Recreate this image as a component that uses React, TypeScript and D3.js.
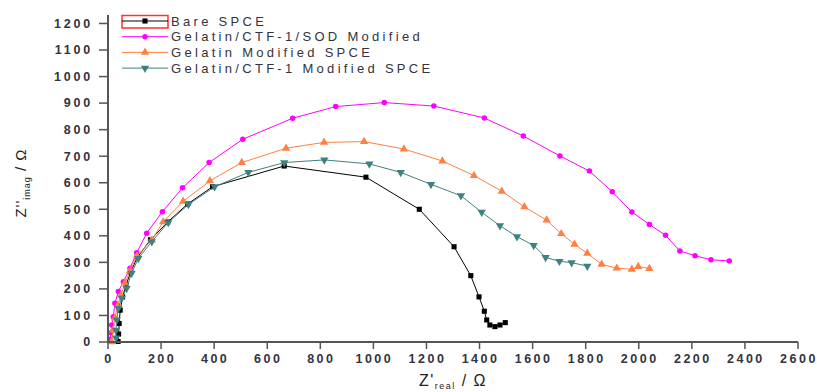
import React from 'react';
import * as d3 from 'd3';

// Nyquist data, Z'real / Ω vs Z''imag / Ω
const bareX = [38, 40, 42, 46, 55, 68, 85, 110, 160, 225, 300, 394, 664, 972, 1173, 1304, 1367, 1398, 1418, 1427, 1439, 1458, 1477, 1497];
const bareY = [2, 30, 70, 120, 170, 215, 262, 318, 385, 452, 520, 585, 663, 621, 500, 359, 250, 170, 116, 83, 64, 58, 64, 73];

const sodX = [8, 11, 14, 20, 26, 39, 58, 83, 108, 146, 205, 281, 381, 508, 696, 858, 1041, 1228, 1418, 1565, 1703, 1814, 1900, 1974, 2040, 2101, 2155, 2212, 2272, 2341];
const sodY = [10, 35, 64, 95, 146, 190, 227, 278, 336, 410, 491, 581, 676, 764, 843, 887, 902, 889, 844, 776, 701, 644, 566, 490, 443, 402, 343, 325, 310, 305];

const gelX = [14, 19, 26, 38, 49, 64, 83, 109, 165, 208, 283, 384, 504, 671, 814, 965, 1115, 1260, 1379, 1484, 1569, 1653, 1708, 1758, 1806, 1860, 1917, 1974, 1998, 2040];
const gelY = [1, 45, 90, 139, 177, 222, 268, 324, 384, 453, 530, 607, 676, 730, 752, 755, 727, 682, 627, 568, 509, 459, 408, 368, 334, 293, 278, 274, 284, 277];

const ctfX = [30, 30, 33, 39, 52, 70, 89, 114, 165, 227, 303, 402, 529, 664, 815, 985, 1103, 1217, 1330, 1408, 1477, 1541, 1604, 1649, 1701, 1747, 1806];
const ctfY = [15, 45, 83, 127, 165, 202, 259, 315, 378, 450, 518, 585, 639, 676, 686, 671, 639, 594, 551, 489, 438, 397, 364, 319, 304, 299, 286];

const seriesNames = ['Bare SPCE', 'Gelatin/CTF-1/SOD Modified', 'Gelatin Modified SPCE', 'Gelatin/CTF-1 Modified SPCE'];
const seriesColors = ['#000000', '#ff00ff', '#ff8040', '#408080'];
const xTicks = d3.range(0, 2601, 200);
const yTicks = d3.range(0, 1201, 100);

const W = 817;
const H = 392;

const App = () => {
  const x = d3.scaleLinear().domain([0, 2600]).range([108, 798]);
  const y = d3.scaleLinear().domain([0, 1232]).range([342, 15]);

  const series = [
    { xs: bareX, ys: bareY, shape: 'square' },
    { xs: sodX, ys: sodY, shape: 'circle' },
    { xs: gelX, ys: gelY, shape: 'up' },
    { xs: ctfX, ys: ctfY, shape: 'down' },
  ];

  const line = d3.line<[number, number]>().x((d) => x(d[0])).y((d) => y(d[1]));

  const symbolPath = (shape) => {
    if (shape === 'square') return d3.symbol(d3.symbolSquare, 26)();
    if (shape === 'circle') return d3.symbol(d3.symbolCircle, 24)();
    return d3.symbol(d3.symbolTriangle, 30)();
  };

  const axisColor = '#555555';
  const textColor = '#333340';
  const font = 'Arial, "Liberation Sans", sans-serif';

  return (
    <svg width={W} height={H} style={{ position: 'absolute', left: 0, top: 0, background: '#fff' }}>
      {/* series */}
      {series.map((s, i) => {
        const pts = s.xs.map((v, j) => [v, s.ys[j]] as [number, number]);
        return (
          <g key={i}>
            <path d={line(pts) || ''} fill="none" stroke={seriesColors[i]} strokeWidth={1} />
            {pts.map((p, j) => (
              <path
                key={j}
                d={symbolPath(s.shape) || ''}
                fill={seriesColors[i]}
                transform={`translate(${x(p[0])},${y(p[1])})${s.shape === 'down' ? ' rotate(180)' : ''}`}
              />
            ))}
          </g>
        );
      })}

      {/* axes */}
      <line x1={108} x2={108} y1={y(1232)} y2={343} stroke={axisColor} strokeWidth={2} />
      <line x1={107} x2={798} y1={342} y2={342} stroke={axisColor} strokeWidth={2} />
      {yTicks.map((t) => (
        <g key={'y' + t}>
          <line x1={99} x2={108} y1={y(t)} y2={y(t)} stroke={axisColor} strokeWidth={1.5} />
          <text x={93} y={y(t)} dy="0.35em" textAnchor="end" fontFamily={font} fontWeight="bold" fontSize={12.5} letterSpacing={2.8} fill={textColor}>
            {t}
          </text>
        </g>
      ))}
      {xTicks.map((t) => (
        <g key={'x' + t}>
          <line x1={x(t)} x2={x(t)} y1={342} y2={349} stroke={axisColor} strokeWidth={1.5} />
          <text x={x(t) + 1} y={363} textAnchor="middle" fontFamily={font} fontWeight="bold" fontSize={12.5} letterSpacing={2.5} fill={textColor}>
            {t}
          </text>
        </g>
      ))}

      {/* axis titles */}
      <text x={453} y={386} textAnchor="middle" fontFamily={font} fontSize={16} letterSpacing={1.5} fill="#222">
        Z'<tspan fontSize={9} dy={3}>real</tspan>
        <tspan dy={-3}> / Ω</tspan>
      </text>
      <text transform="translate(26,183) rotate(-90)" textAnchor="middle" fontFamily={font} fontSize={15} letterSpacing={1} fill="#222">
        Z''<tspan fontSize={9} dy={4}>imag</tspan>
        <tspan dy={-4}> / Ω</tspan>
      </text>

      {/* legend */}
      <rect x={122} y={15.5} width={46} height={12.5} fill="none" stroke="#ff3030" strokeWidth={1.5} />
      {seriesNames.map((name, i) => {
        const cy = 21 + i * 15.7;
        return (
          <g key={name}>
            <line x1={122} x2={168} y1={cy} y2={cy} stroke={seriesColors[i]} strokeWidth={1} />
            <path
              d={symbolPath(series[i].shape) || ''}
              fill={seriesColors[i]}
              transform={`translate(145,${cy})${series[i].shape === 'down' ? ' rotate(180)' : ''}`}
            />
            <text x={171} y={cy} dy="0.36em" fontFamily={font} fontSize={13} letterSpacing={3.3} fill={textColor}>
              {name}
            </text>
          </g>
        );
      })}
    </svg>
  );
};

export default App;
